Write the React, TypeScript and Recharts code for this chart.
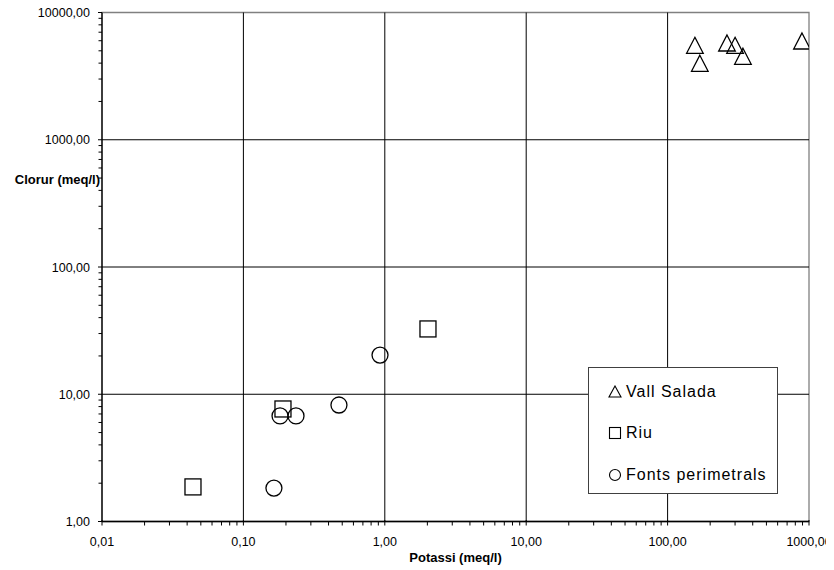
import React from 'react';
import { ScatterChart, Scatter, XAxis, YAxis, ReferenceLine, ReferenceArea, Legend, Label } from 'recharts';

const X_MAJOR = [0.01, 0.1, 1, 10, 100, 1000];
const Y_MAJOR = [1, 10, 100, 1000, 10000];
const MINOR_STEPS = [2, 3, 4, 5, 6, 7, 8, 9];

const SERIES_NAMES = ['Vall Salada', 'Riu', 'Fonts perimetrals'];

const vallK = [156, 169, 263, 300, 341, 892];
const vallCl = [5524, 3990, 5760, 5524, 4528, 5970];

const riuK = [2.02, 0.1905, 0.044];
const riuCl = [32.6, 7.66, 1.87];

const fontsK = [0.925, 0.474, 0.1816, 0.2355, 0.1644];
const fontsCl = [20.3, 8.23, 6.75, 6.75, 1.83];

const zip = (xs: number[], ys: number[]) => xs.map((x, i) => ({ x, y: ys[i] }));
const vallData = zip(vallK, vallCl);
const riuData = zip(riuK, riuCl);
const fontsData = zip(fontsK, fontsCl);

const withMinor = (majors: number[]) => {
  const out: number[] = [];
  majors.forEach((m, i) => {
    out.push(m);
    if (i < majors.length - 1) MINOR_STEPS.forEach((s) => out.push(+(m * s).toPrecision(6)));
  });
  return out;
};
const X_TICKS = withMinor(X_MAJOR);
const Y_TICKS = withMinor(Y_MAJOR);

const FONT = 'Arial, "Liberation Sans", sans-serif';
const isMajor = (v: number) => Math.abs(Math.log10(v) - Math.round(Math.log10(v))) < 1e-6;
const fmt = (v: number) => v.toFixed(2).replace('.', ',');

const YTick = (props: any) => {
  const { x, y, payload } = props;
  const v = payload.value;
  const major = isMajor(v);
  return (
    <g>
      <line x1={x - (major ? 4 : 3.5)} x2={x} y1={y} y2={y} stroke="#000" strokeWidth={1} />
      {major && (
        <text x={x - 12} y={y + 4.5} textAnchor="end" fontSize={12.5} fontFamily={FONT} fill="#000">
          {fmt(v)}
        </text>
      )}
    </g>
  );
};

const XTick = (props: any) => {
  const { x, y, payload } = props;
  const v = payload.value;
  const major = isMajor(v);
  return (
    <g>
      <line x1={x} x2={x} y1={y - (major ? 1.5 : 0)} y2={y + 4} stroke="#000" strokeWidth={1} />
      {major && (
        <text x={x} y={y + 24} textAnchor="middle" fontSize={12.5} fontFamily={FONT} fill="#000">
          {fmt(v)}
        </text>
      )}
    </g>
  );
};

const Triangle = (props: any) => {
  const { cx, cy } = props;
  if (cx == null || cy == null) return null;
  return (
    <path
      d={`M${cx},${cy - 8} L${cx + 8.3},${cy + 8} L${cx - 8.3},${cy + 8} Z`}
      fill="none"
      stroke="#000"
      strokeWidth={1.3}
    />
  );
};
const Square = (props: any) => {
  const { cx, cy } = props;
  if (cx == null || cy == null) return null;
  return <rect x={cx - 8} y={cy - 8} width={16} height={16} fill="none" stroke="#000" strokeWidth={1.3} />;
};
const Circle = (props: any) => {
  const { cx, cy } = props;
  if (cx == null || cy == null) return null;
  return <circle cx={cx} cy={cy} r={8} fill="none" stroke="#000" strokeWidth={1.3} />;
};

const LegendIcon = ({ name }: { name: string }) => {
  let shape: React.ReactNode = null;
  if (name === SERIES_NAMES[0]) shape = <path d="M7,1 L13,12 L1,12 Z" fill="none" stroke="#000" strokeWidth={1.1} />;
  else if (name === SERIES_NAMES[1]) shape = <rect x={1.5} y={1.5} width={11} height={11} fill="none" stroke="#000" strokeWidth={1.1} />;
  else shape = <circle cx={7} cy={7} r={5.5} fill="none" stroke="#000" strokeWidth={1.1} />;
  return (
    <svg width={14} height={14} style={{ display: 'block' }}>
      {shape}
    </svg>
  );
};

const LegendBox = (props: any) => {
  const payload = [...(props.payload || [])].sort(
    (a: any, b: any) => SERIES_NAMES.indexOf(a.value) - SERIES_NAMES.indexOf(b.value)
  );
  const rowTops = [24, 65, 107];
  return (
    <div
      style={{
        position: 'relative',
        width: 190,
        height: 127,
        boxSizing: 'border-box',
        border: '1px solid #404040',
        background: '#fff',
        fontFamily: FONT,
      }}
    >
      {payload.map((p: any, i: number) => (
        <div
          key={p.value}
          style={{
            position: 'absolute',
            left: 19,
            top: rowTops[i] - 10,
            height: 20,
            display: 'flex',
            alignItems: 'center',
            whiteSpace: 'nowrap',
          }}
        >
          <LegendIcon name={p.value} />
          <span style={{ marginLeft: 4, fontSize: 16, letterSpacing: 1, color: '#000', lineHeight: '20px' }}>
            {p.value}
          </span>
        </div>
      ))}
    </div>
  );
};

export default function App() {
  return (
    <div style={{ marginLeft: -8, marginTop: -8, width: 834, height: 570, background: '#fff' }}>
      <ScatterChart width={834} height={570} margin={{ top: 12.5, right: 25, bottom: 18.5, left: 0 }}>
        <XAxis
          type="number"
          dataKey="x"
          scale="log"
          domain={[0.01, 1000]}
          allowDataOverflow
          ticks={X_TICKS}
          interval={0}
          tick={<XTick />}
          tickLine={false}
          tickSize={0}
          tickMargin={0}
          axisLine={{ stroke: '#000', strokeWidth: 1.3 }}
          height={30}
        >
          <Label
            content={(p: any) => {
              const vb = p.viewBox || {};
              return (
                <text
                  x={vb.x + vb.width / 2}
                  y={562}
                  textAnchor="middle"
                  fontSize={13}
                  fontWeight="bold"
                  fontFamily={FONT}
                  fill="#000"
                >
                  Potassi (meq/l)
                </text>
              );
            }}
          />
        </XAxis>
        <YAxis
          type="number"
          dataKey="y"
          scale="log"
          domain={[1, 10000]}
          allowDataOverflow
          ticks={Y_TICKS}
          interval={0}
          tick={<YTick />}
          tickLine={false}
          tickSize={0}
          tickMargin={0}
          axisLine={{ stroke: '#000', strokeWidth: 1.3 }}
          width={102}
        >
          <Label
            content={(p: any) => {
              const vb = p.viewBox || {};
              return (
                <text
                  x={vb.x + vb.width - 2}
                  y={184}
                  textAnchor="end"
                  fontSize={13}
                  fontWeight="bold"
                  fontFamily={FONT}
                  fill="#000"
                >
                  Clorur (meq/l)
                </text>
              );
            }}
          />
        </YAxis>
        <ReferenceArea x1={0.01} x2={1000} y1={1} y2={10000} fill="none" stroke="#808080" strokeWidth={1.3} ifOverflow="visible" />
        {X_MAJOR.slice(1, -1).map((v) => (
          <ReferenceLine key={'x' + v} x={v} stroke="#000" strokeWidth={1} />
        ))}
        {Y_MAJOR.slice(1, -1).map((v) => (
          <ReferenceLine key={'y' + v} y={v} stroke="#000" strokeWidth={1} />
        ))}
        <Legend
          content={<LegendBox />}
          layout="horizontal"
          align="center"
          verticalAlign="middle"
          wrapperStyle={{ left: 588, top: 367, width: 190, height: 127 }}
        />
        <Scatter name={SERIES_NAMES[0]} data={vallData} shape={<Triangle />} isAnimationActive={false} />
        <Scatter name={SERIES_NAMES[1]} data={riuData} shape={<Square />} isAnimationActive={false} />
        <Scatter name={SERIES_NAMES[2]} data={fontsData} shape={<Circle />} isAnimationActive={false} />
      </ScatterChart>
    </div>
  );
}
